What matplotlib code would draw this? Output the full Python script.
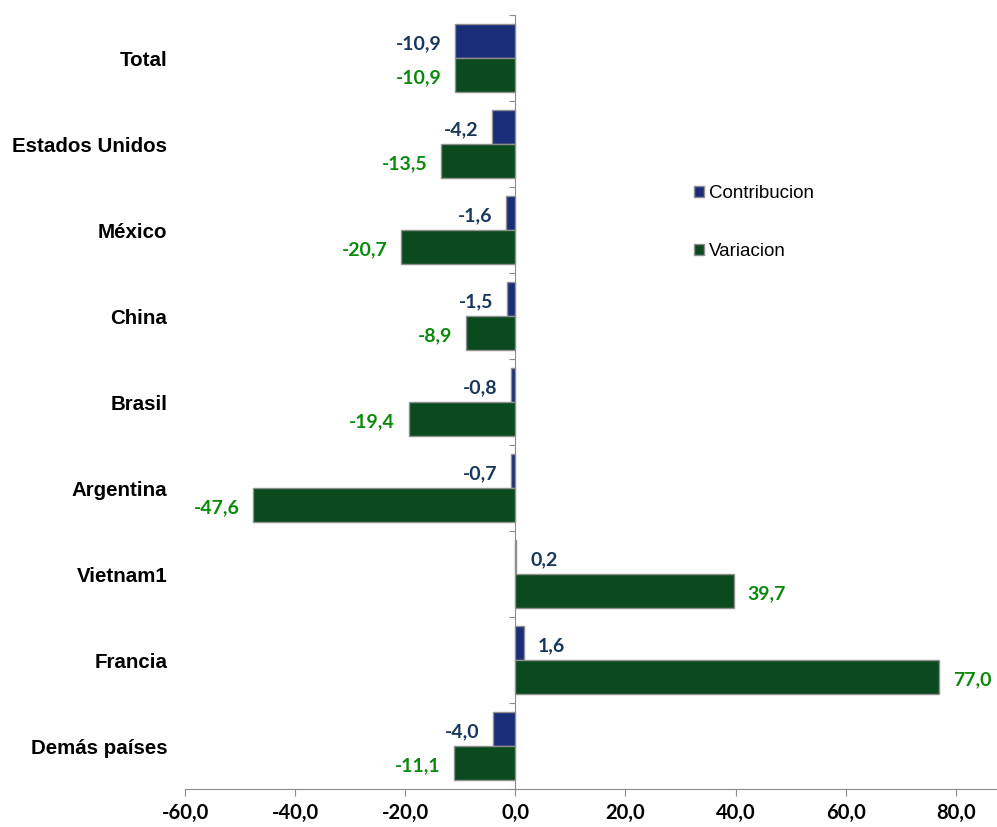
import numpy as np
import matplotlib
matplotlib.use('Agg')
import matplotlib.pyplot as plt
import matplotlib.transforms as mtransforms

categories = ['Total', 'Estados Unidos', 'México', 'China', 'Brasil',
              'Argentina', 'Vietnam1', 'Francia', 'Demás países']
contribucion = [-10.9, -4.2, -1.6, -1.5, -0.8, -0.7, 0.2, 1.6, -4.0]
variacion = [-10.9, -13.5, -20.7, -8.9, -19.4, -47.6, 39.7, 77.0, -11.1]
xticks = [-60, -40, -20, 0, 20, 40, 60, 80]

blue_bar = '#1a2d78'
green_bar = '#0b4a1f'
blue_txt = '#17375e'
green_txt = '#0a8a0a'


def fmt(v):
    return f'{v:.1f}'.replace('.', ',')


fig = plt.figure(figsize=(9.97, 8.27), dpi=100)
ax = fig.add_axes([185 / 997, 38 / 827, 812 / 997, 774 / 827])

y = np.arange(len(categories))
h = 0.4
b1 = ax.barh(y - h / 2, contribucion, height=h, color=blue_bar,
             edgecolor='#8f8f8f', linewidth=1, label='Contribucion', zorder=3)
b2 = ax.barh(y + h / 2, variacion, height=h, color=green_bar,
             edgecolor='#8f8f8f', linewidth=1, label='Variacion', zorder=3)

lab_font = dict(family=['Lato', 'DejaVu Sans'], fontweight='bold', fontsize=14)
for bars, vals, col in [(b1, contribucion, blue_txt), (b2, variacion, green_txt)]:
    for bar, v in zip(bars, vals):
        yc = bar.get_y() + bar.get_height() / 2
        off = 10 if v > 0 else -10
        ax.annotate(fmt(v), (v, yc), xytext=(off, -2), textcoords='offset points',
                    ha='left' if v > 0 else 'right', va='center',
                    color=col, **lab_font)

ax.set_xlim(-60, 87.5)
ax.set_ylim(len(categories) - 0.5, -0.5)

ax.spines['top'].set_visible(False)
ax.spines['right'].set_visible(False)
ax.spines['left'].set_position(('data', 0))
ax.spines['left'].set_color('#8c8c8c')
ax.spines['bottom'].set_color('#8c8c8c')

ax.set_yticks(np.arange(-0.5, len(categories), 1.0))
ax.set_yticklabels([])
ax.tick_params(axis='y', length=4, color='#8c8c8c')

ax.set_xticks(xticks)
ax.set_xticklabels([fmt(t) for t in xticks], family=['Lato', 'DejaVu Sans'],
                   fontweight='bold', fontsize=14.5)
ax.tick_params(axis='x', length=5, color='#8c8c8c', pad=5)

trans = mtransforms.blended_transform_factory(ax.transAxes, ax.transData)
for i, c in enumerate(categories):
    ax.text(-0.022, i + 0.03, c, transform=trans, ha='right', va='center',
            family=['Liberation Sans', 'DejaVu Sans'], fontweight='bold', fontsize=14.8)

ax.legend(loc='upper left', bbox_to_anchor=(677 / 997, 1 - 168 / 827),
          bbox_transform=fig.transFigure, frameon=False,
          handlelength=0.55, handleheight=0.55, handletextpad=0.25,
          labelspacing=2.2, prop={'family': 'Liberation Sans', 'size': 13.5})

fig.savefig('out.png', dpi=100)
